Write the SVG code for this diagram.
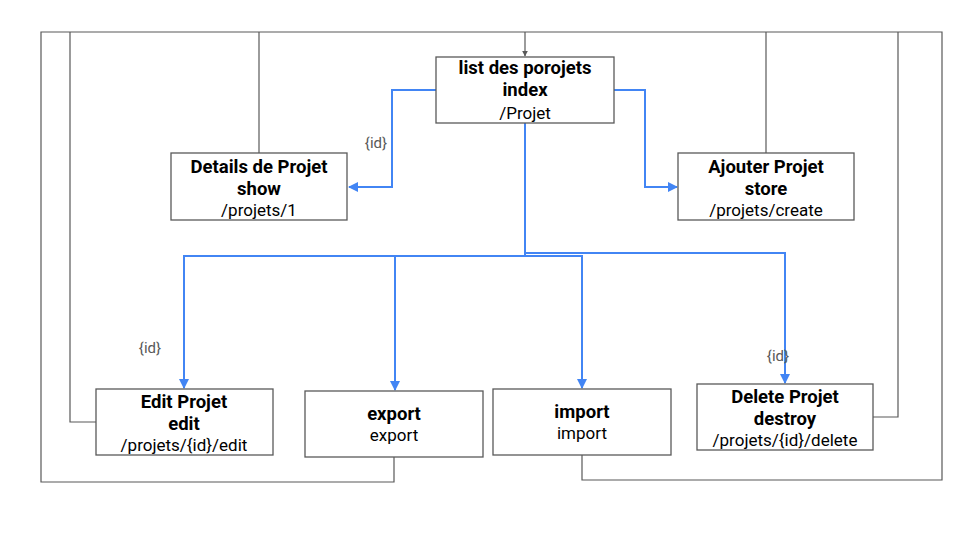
<svg xmlns="http://www.w3.org/2000/svg" width="960" height="540" viewBox="0 0 960 540">
<defs>
<marker id="ab" viewBox="0 0 10 10" refX="9" refY="5" markerWidth="5" markerHeight="5" orient="auto" markerUnits="strokeWidth"><path d="M0,0 L10,5 L0,10 z" fill="#4285F4"/></marker>
<marker id="ag" viewBox="0 0 10 10" refX="9" refY="5" markerWidth="5" markerHeight="5" orient="auto" markerUnits="strokeWidth"><path d="M0,0 L10,5 L0,10 z" fill="#595959"/></marker>
<style>
.box{fill:#fff;stroke:#595959;stroke-width:1.3}
.g{fill:none;stroke:#595959;stroke-width:1.2}
.b{fill:none;stroke:#4285F4;stroke-width:2}
.t{font-family:Roboto,"Liberation Sans",sans-serif;font-size:17px;fill:#000;text-anchor:middle}
.bd{font-weight:bold;font-size:18.5px}
.lbl{font-family:Roboto,"Liberation Sans",sans-serif;font-size:15px;fill:#595959;text-anchor:middle}
</style>
</defs>
<rect width="960" height="540" fill="#fff"/>
<g id="connectors">
<path class="g" d="M394,457 V482 H41 V32 H942 V480 H582 V455"/>
<path class="g" d="M96,422 H70 V32"/>
<path class="g" d="M259,153 V32"/>
<path class="g" d="M766,153 V32"/>
<path class="g" d="M873,417 H898 V32"/>
<path class="g" d="M525,32 V56" marker-end="url(#ag)"/>
<path class="b" d="M436,90 H392 V187 H349" marker-end="url(#ab)"/>
<path class="b" d="M614,90 H645 V187 H677" marker-end="url(#ab)"/>
<path class="b" d="M525,123 V256 H184 V388" marker-end="url(#ab)"/>
<path class="b" d="M395,256 V390" marker-end="url(#ab)"/>
<path class="b" d="M525,256 H582 V388" marker-end="url(#ab)"/>
<path class="b" d="M525,253 H785 V383" marker-end="url(#ab)"/>
<text class="lbl" x="376" y="148">{id}</text>
<text class="lbl" x="150" y="353">{id}</text>
<text class="lbl" x="778" y="361">{id}</text>
</g>
<g id="index">
<rect class="box" x="436" y="57" width="178" height="66"/>
<text class="t bd" x="525" y="74">list des porojets</text>
<text class="t bd" x="525" y="96">index</text>
<text class="t" x="525" y="119">/Projet</text>
</g>
<g id="details">
<rect class="box" x="171" y="153" width="176" height="67"/>
<text class="t bd" x="259" y="173">Details de Projet</text>
<text class="t bd" x="259" y="195">show</text>
<text class="t" x="259" y="216">/projets/1</text>
</g>
<g id="ajouter">
<rect class="box" x="678" y="153" width="176" height="67"/>
<text class="t bd" x="766" y="173">Ajouter Projet</text>
<text class="t bd" x="766" y="195">store</text>
<text class="t" x="766" y="216">/projets/create</text>
</g>
<g id="edit">
<rect class="box" x="96" y="389" width="177" height="66"/>
<text class="t bd" x="184" y="408">Edit Projet</text>
<text class="t bd" x="184" y="430">edit</text>
<text class="t" x="184" y="451">/projets/{id}/edit</text>
</g>
<g id="export">
<rect class="box" x="305" y="391" width="178" height="66"/>
<text class="t bd" x="394" y="420">export</text>
<text class="t" x="394" y="441">export</text>
</g>
<g id="import">
<rect class="box" x="493" y="389" width="178" height="66"/>
<text class="t bd" x="582" y="418">import</text>
<text class="t" x="582" y="439">import</text>
</g>
<g id="delete">
<rect class="box" x="697" y="384" width="176" height="66"/>
<text class="t bd" x="785" y="403">Delete Projet</text>
<text class="t bd" x="785" y="425">destroy</text>
<text class="t" x="785" y="446">/projets/{id}/delete</text>
</g>
</svg>
